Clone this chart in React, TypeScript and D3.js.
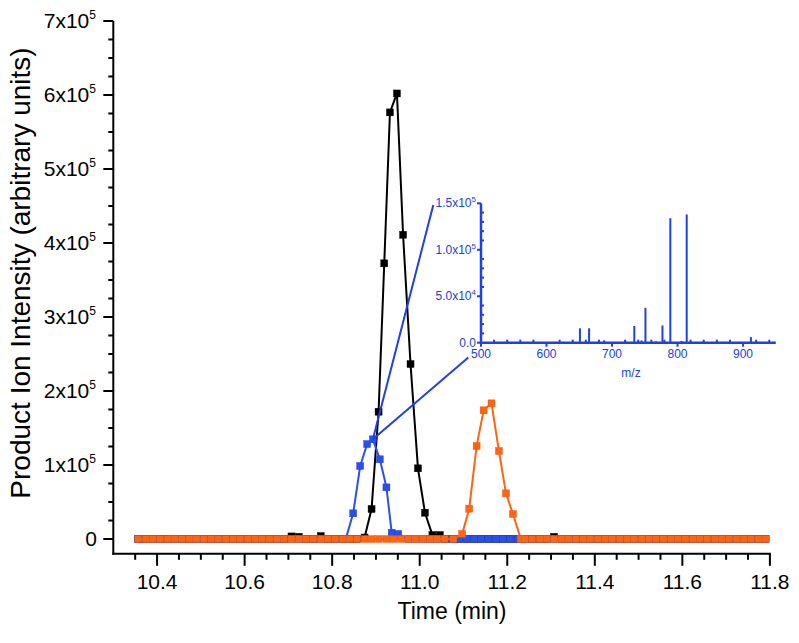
import React from 'react';
import * as d3 from 'd3';

// ---- Data ----
const scanTimes = [
  10.357, 10.374, 10.390, 10.407, 10.424, 10.440, 10.457, 10.474, 10.490, 10.507,
  10.524, 10.540, 10.557, 10.574, 10.590, 10.607, 10.624, 10.640, 10.657, 10.674,
  10.690, 10.707, 10.724, 10.740, 10.757, 10.774, 10.790, 10.807, 10.824, 10.840,
  10.857, 10.874, 10.890, 10.907, 10.924, 10.940, 10.957, 10.974, 10.990, 11.007,
  11.024, 11.040, 11.057, 11.074, 11.090, 11.107, 11.124, 11.140, 11.157, 11.174,
  11.190, 11.207, 11.224, 11.240, 11.257, 11.274, 11.290, 11.307, 11.324, 11.340,
  11.357, 11.374, 11.390, 11.407, 11.424, 11.440, 11.457, 11.474, 11.490, 11.507,
  11.524, 11.540, 11.557, 11.574, 11.590, 11.607, 11.624, 11.640, 11.657, 11.674,
  11.690, 11.707, 11.724, 11.740, 11.757, 11.774, 11.790,
];

const blackPeakTimes = [10.874, 10.890, 10.906, 10.919, 10.932, 10.948, 10.962, 10.979, 10.996, 11.012, 11.029, 11.046];
const blackPeakValues = [2000, 40500, 172000, 372500, 576500, 602100, 411100, 236400, 95500, 35500, 5400, 5400];
const blackBaselineBumps: [number, number][] = [[10.707, 3500], [10.724, 3000], [10.774, 4000], [11.307, 3000]];

const bluePeakTimes = [10.831, 10.848, 10.864, 10.880, 10.893, 10.909, 10.924, 10.936, 10.951];
const bluePeakValues = [0, 34700, 98600, 128300, 134700, 107700, 69800, 8500, 6800];

const orangePeakTimes = [11.077, 11.097, 11.113, 11.130, 11.146, 11.164, 11.181, 11.197, 11.213, 11.231];
const orangePeakValues = [0, 6800, 40900, 125600, 173900, 183300, 118900, 61700, 33800, 0];

const xMajorTicks = [10.4, 10.6, 10.8, 11.0, 11.2, 11.4, 11.6, 11.8];
const xTickLabels = ['10.4', '10.6', '10.8', '11.0', '11.2', '11.4', '11.6', '11.8'];
const yMajorTicks = [0, 100000, 200000, 300000, 400000, 500000, 600000, 700000];
const yTickMantissa = ['0', '1', '2', '3', '4', '5', '6', '7'];

// inset spectrum (m/z, intensity)
const spectrumMz = [520, 560, 612, 640, 651, 665, 688, 705, 722, 734, 745, 751, 767, 777, 789, 806, 814, 840, 872, 895, 912, 935];
const spectrumInt = [800, 700, 900, 1200, 15500, 15500, 2500, 900, 1000, 18000, 2500, 37500, 1500, 18500, 134000, 2000, 138000, 1500, 1000, 900, 6000, 800];
const insetXTicks = [500, 600, 700, 800, 900];
const insetYTicks = [0, 50000, 100000, 150000];
const insetYLabels: [string, string | null][] = [['0.0', null], ['5.0x10', '4'], ['1.0x10', '5'], ['1.5x10', '5']];

const COLORS = { black: '#000000', blue: '#2a50ec', orange: '#ff6410', inset: '#2040e0' };
const FONT = '"Liberation Sans", Arial, Helvetica, sans-serif';

function buildSeries(peakT: number[], peakV: number[], bumps: [number, number][] = []) {
  const lo = peakT[0] - 0.008;
  const hi = peakT[peakT.length - 1] + 0.008;
  const pts: [number, number][] = [];
  scanTimes.forEach((t) => {
    if (t < lo || t > hi) {
      const b = bumps.find((d) => Math.abs(d[0] - t) < 0.002);
      pts.push([t, b ? b[1] : 0]);
    }
  });
  peakT.forEach((t, i) => pts.push([t, peakV[i]]));
  pts.sort((a, b) => a[0] - b[0]);
  return pts;
}

export default function App() {
  const x = d3.scaleLinear().domain([10.3, 11.8]).range([113.3, 769.9]);
  const y = d3.scaleLinear().domain([-20000, 700000]).range([553.8, 21]);
  const x0 = x.range()[0];
  const y0 = y.range()[0];

  const line = d3.line<[number, number]>().x((d) => x(d[0])).y((d) => y(d[1]));

  const series = [
    { key: 'black', color: COLORS.black, stroke: '#000', pts: buildSeries(blackPeakTimes, blackPeakValues, blackBaselineBumps) },
    { key: 'blue', color: COLORS.blue, stroke: '#2040c8', pts: buildSeries(bluePeakTimes, bluePeakValues) },
    { key: 'orange', color: COLORS.orange, stroke: '#e0541a', pts: buildSeries(orangePeakTimes, orangePeakValues) },
  ];

  const xMinor = d3.range(10.35, 11.8, 0.05).filter((v) => !xMajorTicks.some((m) => Math.abs(m - v) < 1e-6));
  const yMinor = d3.range(0, 700001, 25000).filter((v) => v % 100000 !== 0);

  // inset
  const ix = d3.scaleLinear().domain([500, 950]).range([481, 775.8]);
  const iy = d3.scaleLinear().domain([0, 150000]).range([342.7, 203.3]);
  const ixMinor = d3.range(520, 950, 20).filter((v) => v % 100 !== 0);
  const iyMinor = d3.range(10000, 150000, 10000).filter((v) => v % 50000 !== 0);

  // leader lines start at the blue peak maximum
  const bi = bluePeakValues.indexOf(d3.max(bluePeakValues) as number);
  const bx = x(bluePeakTimes[bi]);
  const by = y(bluePeakValues[bi]);

  const ms = 7;

  return (
    <svg width={799} height={643} style={{ position: 'absolute', left: 0, top: 0, background: '#fff' }} fontFamily={FONT}>
      <rect x={0} y={0} width={799} height={643} fill="#fff" />
      {/* series */}
      {series.map((s) => (
        <g key={s.key}>
          <path d={line(s.pts) || ''} fill="none" stroke={s.color} strokeWidth={2} />
          {s.pts.map((p, i) => (
            <rect key={i} x={x(p[0]) - ms / 2} y={y(p[1]) - ms / 2} width={ms} height={ms} fill={s.color} stroke={s.stroke} strokeWidth={0.4} />
          ))}
        </g>
      ))}
      {/* leader lines */}
      <line x1={bx} y1={by} x2={433.3} y2={205} stroke={COLORS.inset} strokeWidth={2} />
      <line x1={bx} y1={by} x2={468.3} y2={357.5} stroke={COLORS.inset} strokeWidth={2} />

      {/* main axes */}
      <g stroke="#000" strokeWidth={2}>
        <line x1={x0} y1={y.range()[1]} x2={x0} y2={y0 + 1} />
        <line x1={x0 - 1} y1={y0} x2={x.range()[1] + 1} y2={y0} />
        {yMajorTicks.map((v) => (
          <line key={'ym' + v} x1={x0 - 10} x2={x0} y1={y(v)} y2={y(v)} />
        ))}
        {yMinor.map((v) => (
          <line key={'yn' + v} x1={x0 - 5} x2={x0} y1={y(v)} y2={y(v)} />
        ))}
        {xMajorTicks.map((v) => (
          <line key={'xm' + v} x1={x(v)} x2={x(v)} y1={y0} y2={y0 + 12} />
        ))}
        {xMinor.map((v) => (
          <line key={'xn' + v} x1={x(v)} x2={x(v)} y1={y0} y2={y0 + 6} />
        ))}
      </g>
      {/* main tick labels */}
      <g fontSize={21} fill="#000">
        {xMajorTicks.map((v, i) => (
          <text key={'xl' + v} x={x(v)} y={589} textAnchor="middle">{xTickLabels[i]}</text>
        ))}
        {yMajorTicks.map((v, i) => (
          <text key={'yl' + v} x={v === 0 ? 97 : 96} y={y(v) + 7} textAnchor="end">
            {v === 0 ? '0' : (
              <>
                {yTickMantissa[i] + 'x10'}
                <tspan dy={-9} fontSize={12}>5</tspan>
              </>
            )}
          </text>
        ))}
      </g>
      <text x={452} y={619} textAnchor="middle" fontSize={23}>Time (min)</text>
      <text transform="translate(30,273) rotate(-90)" textAnchor="middle" fontSize={28}>Product Ion Intensity (arbitrary units)</text>

      {/* inset */}
      <g stroke={COLORS.inset} strokeWidth={2}>
        {spectrumMz.map((m, i) => (
          <line key={'sp' + i} x1={ix(m)} x2={ix(m)} y1={iy(0)} y2={iy(spectrumInt[i])} />
        ))}
        <line x1={ix(500)} x2={ix(500)} y1={iy(150000)} y2={iy(0) + 1} strokeWidth={2.5} />
        <line x1={ix(500) - 1} x2={ix(950)} y1={iy(0)} y2={iy(0)} strokeWidth={2.5} />
        {insetYTicks.map((v) => (
          <line key={'iym' + v} x1={ix(500) - 4} x2={ix(500)} y1={iy(v)} y2={iy(v)} />
        ))}
        {iyMinor.map((v) => (
          <line key={'iyn' + v} x1={ix(500)} x2={ix(500) + 3} y1={iy(v)} y2={iy(v)} />
        ))}
        {insetXTicks.map((v) => (
          <line key={'ixm' + v} x1={ix(v)} x2={ix(v)} y1={iy(0)} y2={iy(0) + 4} />
        ))}
        {ixMinor.map((v) => (
          <line key={'ixn' + v} x1={ix(v)} x2={ix(v)} y1={iy(0)} y2={iy(0) - 3} />
        ))}
      </g>
      <g fill={COLORS.inset} fontSize={12}>
        {insetXTicks.map((v) => (
          <text key={'ixl' + v} x={ix(v)} y={358} textAnchor="middle">{v}</text>
        ))}
        {insetYTicks.map((v, i) => (
          <text key={'iyl' + v} x={476} y={iy(v) + 4} textAnchor="end">
            {insetYLabels[i][0]}
            {insetYLabels[i][1] && <tspan dy={-5} fontSize={8}>{insetYLabels[i][1]}</tspan>}
          </text>
        ))}
        <text x={631} y={377} textAnchor="middle">m/z</text>
      </g>
    </svg>
  );
}
